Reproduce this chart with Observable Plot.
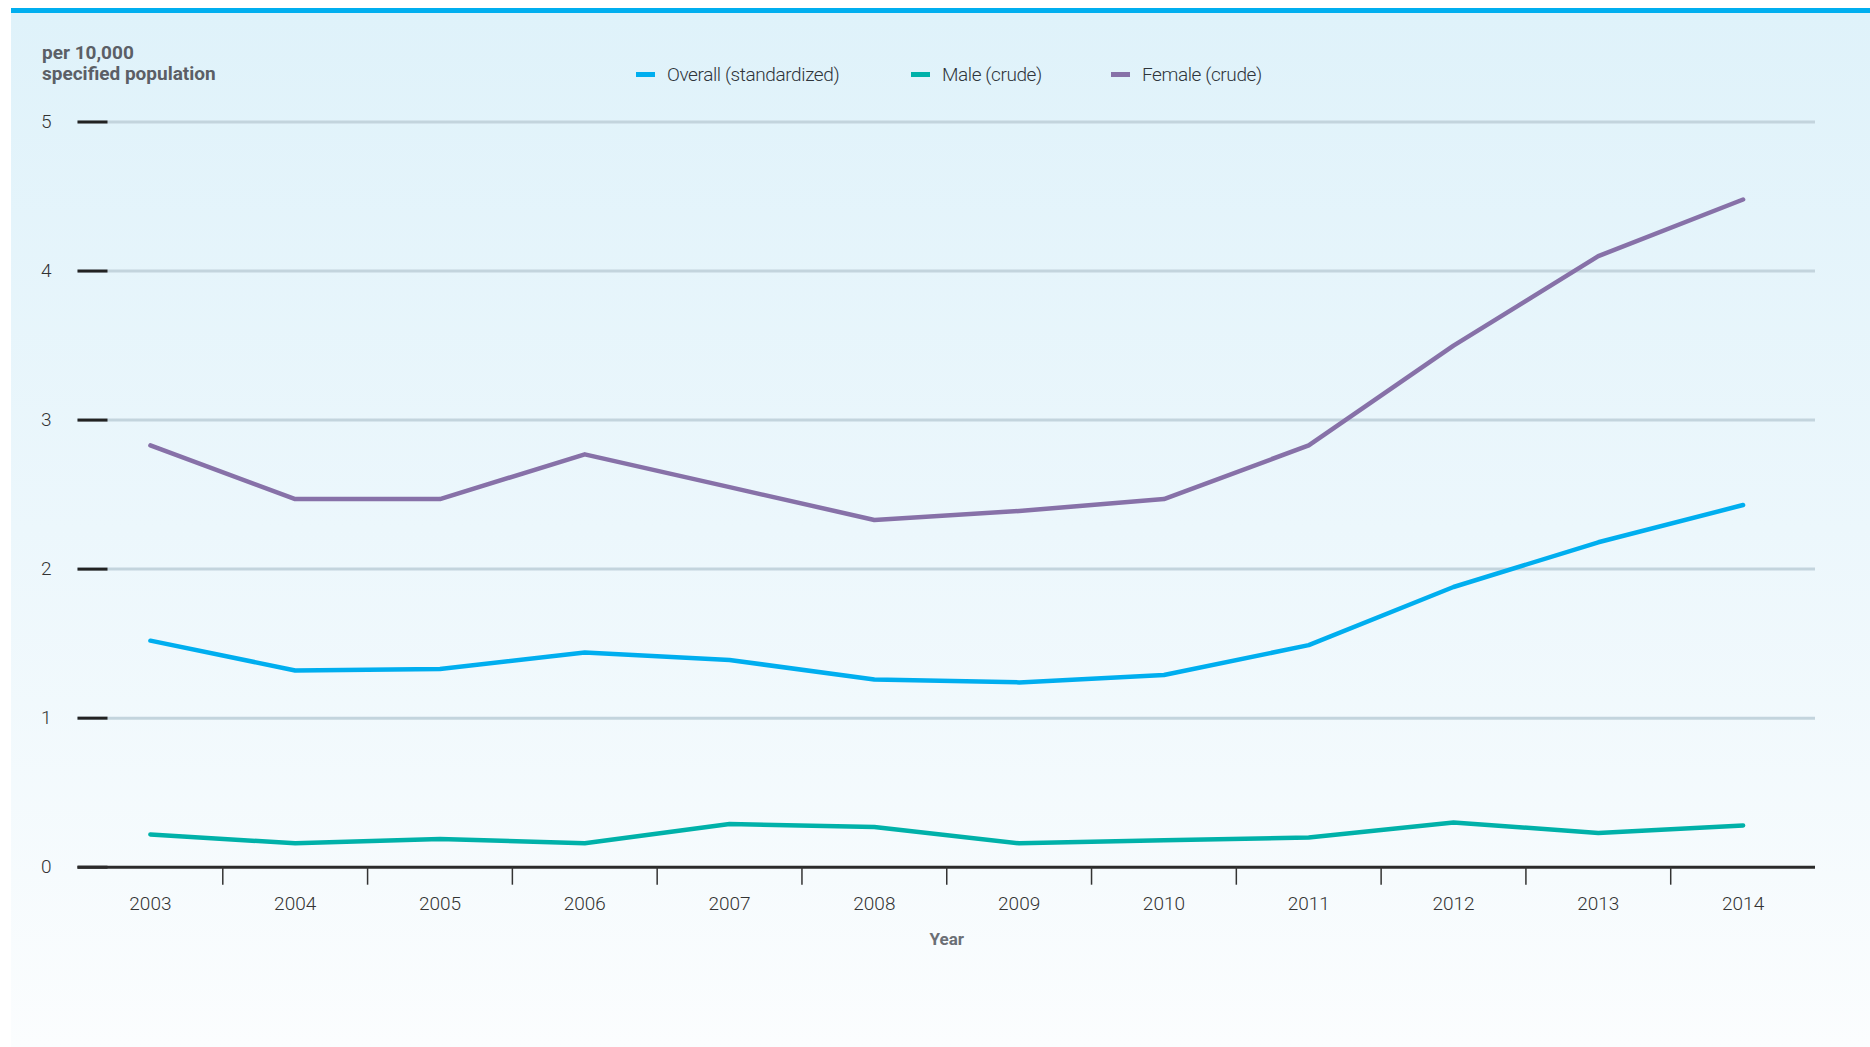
<!DOCTYPE html>
<html>
<head>
<meta charset="utf-8">
<script src="https://cdn.jsdelivr.net/npm/d3@7"></script>
<script src="https://cdn.jsdelivr.net/npm/@observablehq/plot@0.6"></script>
<style>
  html, body { margin: 0; padding: 0; background: #ffffff; }
  #wrap {
    position: relative; width: 1870px; height: 1047px; overflow: hidden;
    font-family: Roboto, "Noto Sans", sans-serif;
  }
  #bar { position: absolute; left: 11px; right: 0; top: 8px; height: 5px; background: #00aeef; }
  #panel { position: absolute; left: 11px; right: 0; top: 13px; bottom: 0;
    background: linear-gradient(#dff2fa 0%, #ecf7fc 50%, #fbfdfe 100%); }
  #ytitle { position: absolute; left: 42px; top: 42px; font-weight: bold; font-size: 19px;
    line-height: 21px; color: #5b5f66; }
  .item { position: absolute; top: 62px; height: 24px; display: flex; align-items: center;
    font-size: 19px; font-weight: 300; color: #2f353b; white-space: nowrap; letter-spacing: -0.4px; }
  .sw { width: 19px; height: 5px; margin-right: 12px; }
  #chart { position: absolute; left: 0; top: 0; }
</style>
</head>
<body>
<div id="wrap">
  <div id="panel"></div>
  <div id="bar"></div>
  <div id="chart"></div>
  <div id="ytitle">per 10,000<br>specified population</div>
  <div id="legend"></div>
</div>
<script>
// Rates per 10,000 specified population, by year
const years = [2003, 2004, 2005, 2006, 2007, 2008, 2009, 2010, 2011, 2012, 2013, 2014];
const overall = [1.52, 1.32, 1.33, 1.44, 1.39, 1.26, 1.24, 1.29, 1.49, 1.88, 2.18, 2.43];
const male    = [0.22, 0.16, 0.19, 0.16, 0.29, 0.27, 0.16, 0.18, 0.20, 0.30, 0.23, 0.28];
const female  = [2.83, 2.47, 2.47, 2.77, 2.55, 2.33, 2.39, 2.47, 2.83, 3.50, 4.10, 4.48];

const seriesNames = ["Overall (standardized)", "Male (crude)", "Female (crude)"];
const seriesColors = ["#00aeef", "#00b1a9", "#8771a8"];
const yTicks = [0, 1, 2, 3, 4, 5];

// Long-format rows for the line mark
const seriesValues = [overall, male, female];
const rows = [];
seriesNames.forEach((name, i) => {
  years.forEach((yr, j) => rows.push({year: yr, value: seriesValues[i][j], series: name}));
});

// Tick marks sit between the year categories
const edges = years.slice(1).map(d => d - 0.5);

const font = "Roboto, 'Noto Sans', sans-serif";
const H = 960;

const chart = Plot.plot({
  width: 1870,
  height: H,
  marginTop: 121.5,
  marginBottom: H - 866.7,
  marginLeft: 77.5,
  marginRight: 55,
  style: {background: "transparent", fontFamily: font, overflow: "visible"},
  x: {domain: [years[0] - 0.5, years[years.length - 1] + 0.5], label: null},
  y: {domain: [0, 5], label: null},
  color: {domain: seriesNames, range: seriesColors},
  marks: [
    Plot.gridY(yTicks.filter(d => d > 0), {stroke: "#c3d4dd", strokeOpacity: 1, strokeWidth: 3}),
    Plot.axisY(yTicks, {tickSize: -30, tickPadding: 56.5, stroke: "#222222", strokeWidth: 3,
      tickFormat: d => String(d), fill: "#333333", fontSize: 19, fontWeight: 300, label: null}),
    Plot.ruleY([0], {stroke: "#2b2b2b", strokeWidth: 3}),
    Plot.axisX(edges, {tickSize: 18, tickFormat: () => "", stroke: "#333333", strokeWidth: 1.5, label: null}),
    Plot.axisX(years, {tickSize: 0, tickPadding: 29, tickFormat: d => String(d), fill: "#333333",
      fontSize: 19, fontWeight: 300, label: null}),
    Plot.text(["Year"], {frameAnchor: "bottom", dy: 78, text: d => d, fontWeight: "bold",
      fontSize: 17, fill: "#6b6f75"}),
    Plot.line(rows, {x: "year", y: "value", z: "series", stroke: "series", strokeWidth: 4.5})
  ]
});
document.getElementById("chart").appendChild(chart);

// Legend
const legendLeft = [636, 911, 1111];
const legend = document.getElementById("legend");
seriesNames.forEach((name, i) => {
  const item = document.createElement("div");
  item.className = "item";
  item.style.left = legendLeft[i] + "px";
  const sw = document.createElement("span");
  sw.className = "sw";
  sw.style.background = seriesColors[i];
  item.appendChild(sw);
  item.appendChild(document.createTextNode(name));
  legend.appendChild(item);
});
</script>
</body>
</html>
